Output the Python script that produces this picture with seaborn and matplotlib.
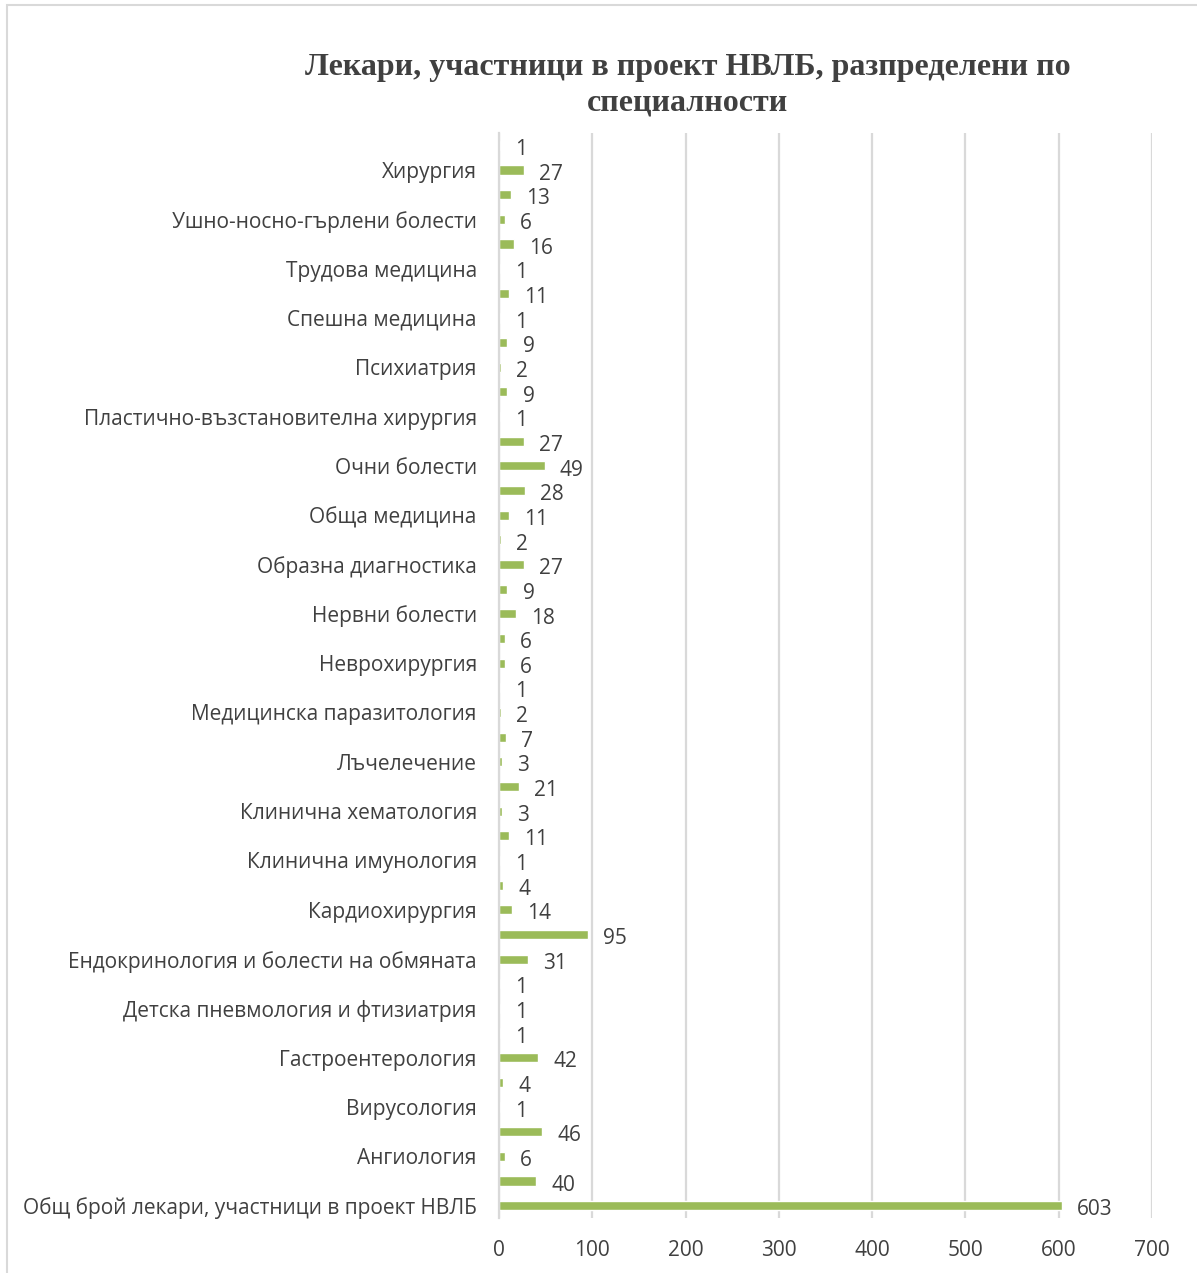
import matplotlib
matplotlib.use("Agg")
import matplotlib.pyplot as plt
import seaborn as sns
import pandas as pd
from matplotlib.patches import Rectangle

# specialties, top to bottom as in the chart
categories = [
    "Челюстно-лицева хирургия",
    "Хирургия",
    "Физикална и рехабилитационна медицина",
    "Ушно-носно-гърлени болести",
    "Урология",
    "Трудова медицина",
    "Съдова хирургия",
    "Спешна медицина",
    "Ревматология",
    "Психиатрия",
    "Пневмология и фтизиатрия",
    "Пластично-възстановителна хирургия",
    "Педиатрия",
    "Очни болести",
    "Ортопедия и травматология",
    "Обща медицина",
    "Обща и клинична патология",
    "Образна диагностика",
    "Нефрология",
    "Нервни болести",
    "Неонатология",
    "Неврохирургия",
    "Микробиология",
    "Медицинска паразитология",
    "Медицинска онкология",
    "Лъчелечение",
    "Кожни и венерически болести",
    "Клинична хематология",
    "Клинична лаборатория",
    "Клинична имунология",
    "Клинична алергология",
    "Кардиохирургия",
    "Кардиология",
    "Ендокринология и болести на обмяната",
    "Детска ревматология",
    "Детска пневмология и фтизиатрия",
    "Детска гастроентерология",
    "Гастроентерология",
    "Вътрешни болести",
    "Вирусология",
    "Анестезиология и интензивно лечение",
    "Ангиология",
    "Акушерство и гинекология",
    "Общ брой лекари, участници в проект НВЛБ",
]
values = [1, 27, 13, 6, 16, 1, 11, 1, 9, 2, 9, 1, 27, 49, 28, 11, 2, 27, 9, 18,
          6, 6, 1, 2, 7, 3, 21, 3, 11, 1, 4, 14, 95, 31, 1, 1, 1, 42, 4, 1,
          46, 6, 40, 603]
# only every other category is labelled on the axis
shown_labels = {
    "Хирургия", "Ушно-носно-гърлени болести", "Трудова медицина",
    "Спешна медицина", "Психиатрия", "Пластично-възстановителна хирургия",
    "Очни болести", "Обща медицина", "Образна диагностика", "Нервни болести",
    "Неврохирургия", "Медицинска паразитология", "Лъчелечение",
    "Клинична хематология", "Клинична имунология", "Кардиохирургия",
    "Ендокринология и болести на обмяната", "Детска пневмология и фтизиатрия",
    "Гастроентерология", "Вирусология", "Ангиология",
    "Общ брой лекари, участници в проект НВЛБ",
}
x_ticks = [0, 100, 200, 300, 400, 500, 600, 700]

df = pd.DataFrame({"spec": categories, "count": values})

sns.set_style("white")
plt.rcParams["font.family"] = ["Open Sans", "DejaVu Sans"]

text_col = "#404040"
bar_col = "#9BBB59"
grid_col = "#D9D9D9"

fig = plt.figure(figsize=(11.97, 12.73), dpi=100)
ax = fig.add_axes([499 / 1197, 1 - 1218 / 1273, 653 / 1197, 1085 / 1273])

sns.barplot(data=df, x="count", y="spec", orient="h", color=bar_col,
            width=0.37, saturation=1, ax=ax, order=categories)

ax.set_xlim(0, 700)
ax.set_ylim(len(categories) - 0.5, -0.5)
ax.set_xticks(x_ticks)
ax.set_xticklabels([str(t) for t in x_ticks], fontsize=15, color=text_col)
ax.set_yticks(range(len(categories)))
ax.set_yticklabels([c if c in shown_labels else "" for c in categories],
                   fontsize=15, color=text_col)
ax.tick_params(axis="both", length=0)
ax.tick_params(axis="x", pad=16)
ax.tick_params(axis="y", pad=16)
ax.set_xlabel("")
ax.set_ylabel("")
ax.xaxis.grid(True, color=grid_col, linewidth=1.6)
ax.set_axisbelow(True)
for s in ["top", "right", "bottom"]:
    ax.spines[s].set_visible(False)
ax.spines["left"].set_color(grid_col)
ax.spines["left"].set_linewidth(1.6)

for cont in ax.containers:
    labs = ax.bar_label(cont, labels=[str(v) for v in values], padding=11,
                        fontsize=15, color=text_col)
    # nudge the value labels down a little, like the original
    for t in labs:
        t.xyann = (11, -3)

fig.text(688 / 1197, 1 - 68 / 1273, "Лекари, участници в проект НВЛБ, разпределени по",
         ha="center", va="center", fontsize=23, fontweight="bold",
         family="Liberation Serif", color=text_col)
fig.text(688 / 1197, 1 - 103 / 1273, "специалности",
         ha="center", va="center", fontsize=23, fontweight="bold",
         family="Liberation Serif", color=text_col)

fig.patches.append(Rectangle((7 / 1197, -0.01), 1.02, 1 - 5 / 1273 + 0.01,
                             transform=fig.transFigure, fill=False,
                             edgecolor=grid_col, linewidth=1.5))

fig.savefig("out.png", dpi=100)
